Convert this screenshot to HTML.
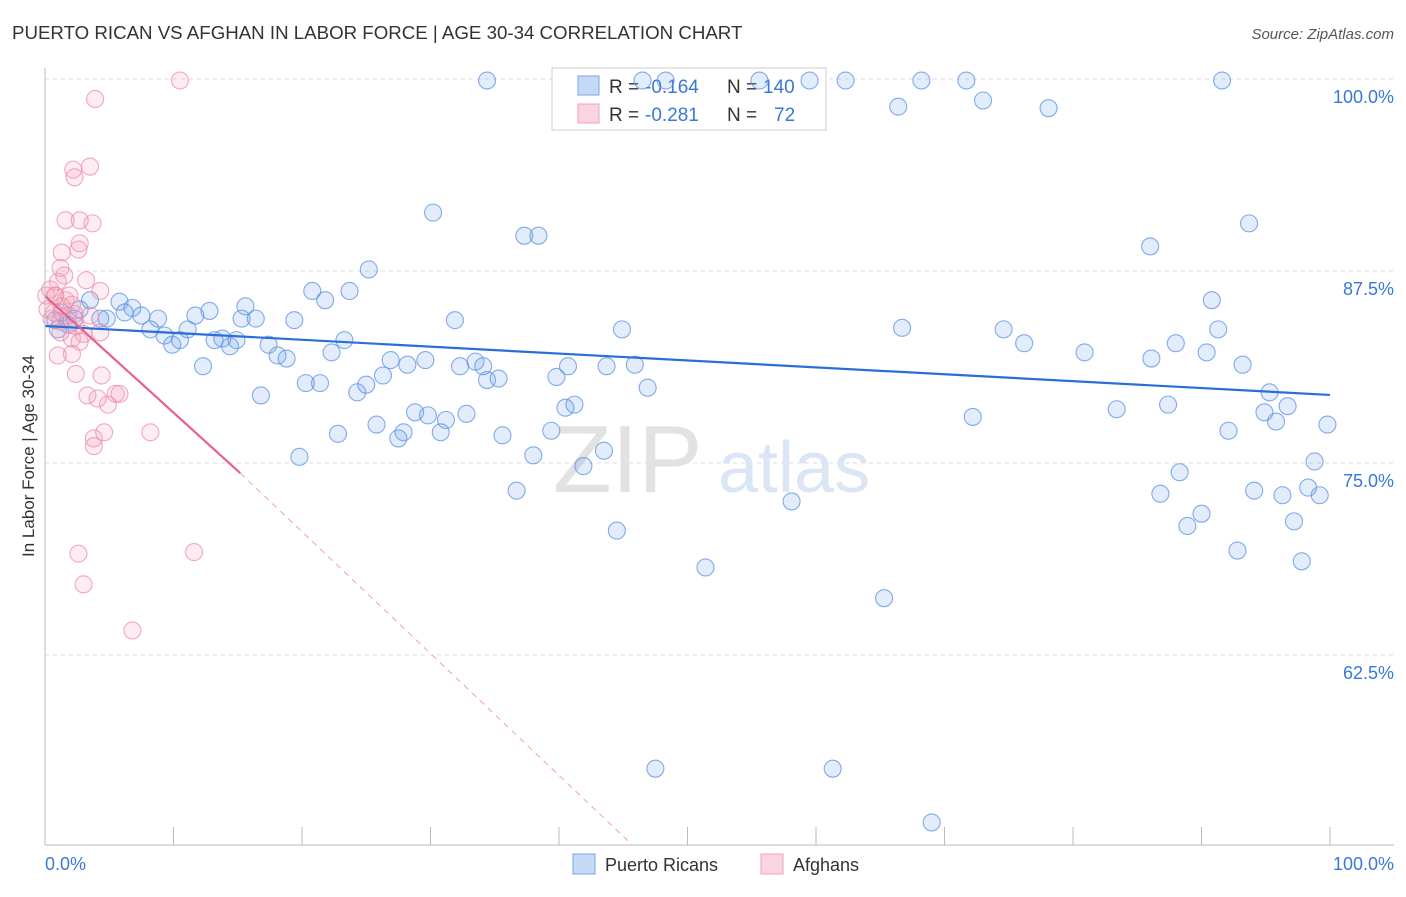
<!DOCTYPE html>
<html><head><meta charset="utf-8"><style>
body{margin:0;background:#fff;font-family:"Liberation Sans",sans-serif;}
svg text{font-family:"Liberation Sans",sans-serif;}
</style></head><body>
<svg id="chart" width="1406" height="892" viewBox="0 0 1406 892" xmlns="http://www.w3.org/2000/svg">
<text x="12" y="39" font-size="18.7" fill="#333">PUERTO RICAN VS AFGHAN IN LABOR FORCE | AGE 30-34 CORRELATION CHART</text>
<text x="1394" y="39" font-size="15" fill="#555" text-anchor="end" font-style="italic">Source: ZipAtlas.com</text>
<g id="grid"></g>
<text x="553" y="492" font-size="96" fill="#e2e2e2" font-family="Liberation Serif, serif">ZIP</text>
<text x="718" y="492" font-size="72" fill="#dbe6f5">atlas</text>
<g>
<rect x="552" y="68" width="274" height="62" fill="#fff" stroke="#ccc"/>
<rect x="578" y="76" width="21" height="19" fill="rgba(110,160,235,0.4)" stroke="#7aa6e6"/>
<rect x="578" y="104" width="21" height="19" fill="rgba(245,160,185,0.45)" stroke="#f0a0b8"/>
<text x="609" y="93" font-size="19" fill="#333">R =</text>
<text x="645" y="93" font-size="19" fill="#3a78d8">-0.164</text>
<text x="727" y="93" font-size="19" fill="#333">N =</text>
<text x="763" y="93" font-size="19" fill="#3a78d8">140</text>
<text x="609" y="121" font-size="19" fill="#333">R =</text>
<text x="645" y="121" font-size="19" fill="#3a78d8">-0.281</text>
<text x="727" y="121" font-size="19" fill="#333">N =</text>
<text x="774" y="121" font-size="19" fill="#3a78d8">72</text>
</g>
<g id="points"></g>
<g id="trends"></g>
<g id="axes"></g>
<text transform="translate(34,456) rotate(-90)" font-size="17" fill="#333" text-anchor="middle">In Labor Force | Age 30-34</text>
<g>
<rect x="573" y="854" width="22" height="20" fill="rgba(110,160,235,0.4)" stroke="#7aa6e6"/>
<text x="605" y="871" font-size="18" fill="#333">Puerto Ricans</text>
<rect x="761" y="854" width="22" height="20" fill="rgba(245,160,185,0.45)" stroke="#f0a0b8"/>
<text x="793" y="871" font-size="18" fill="#333">Afghans</text>
</g>
</svg>
<script>
const blueX=[34.4,46.5,48.3,55.6,59.5,62.3,68.2,71.7,91.6,66.4,73.0,78.1,30.2,37.3,38.4,86.0,93.7,25.2,20.8,23.7,21.8,90.8,15.6,12.8,3.5,5.8,6.8,4.8,6.2,7.5,8.8,8.2,9.3,9.9,10.5,11.1,11.7,13.2,13.8,14.4,14.9,15.3,16.4,17.4,18.1,18.8,19.4,12.3,16.8,20.3,21.4,22.3,23.3,24.3,25.0,26.3,26.9,28.2,29.6,31.9,32.3,33.5,34.1,34.4,35.3,28.8,29.8,31.2,32.8,30.8,27.9,27.5,25.8,22.8,19.8,35.6,36.7,38.0,39.4,40.5,41.2,39.8,40.7,43.7,44.9,45.9,46.9,43.5,41.9,44.5,51.4,58.1,65.3,66.7,72.2,74.6,76.2,80.9,83.4,86.1,87.4,88.0,90.4,91.3,93.2,95.3,94.9,95.8,96.7,92.1,88.3,86.8,90.0,88.9,94.1,96.3,98.3,99.2,98.8,99.8,97.2,92.8,97.8,47.5,61.3,69.0,0.8,1.3,1.8,2.3,2.7,1.0,4.3];
const blueY=[99.9,99.9,99.9,99.9,99.9,99.9,99.9,99.9,99.9,98.2,98.6,98.1,91.3,89.8,89.8,89.1,90.6,87.6,86.2,86.2,85.6,85.6,85.2,84.9,85.6,85.5,85.1,84.4,84.8,84.6,84.4,83.7,83.3,82.7,83.0,83.7,84.6,83.0,83.1,82.6,83.0,84.4,84.4,82.7,82.0,81.8,84.3,81.3,79.4,80.2,80.2,82.2,83.0,79.6,80.1,80.7,81.7,81.4,81.7,84.3,81.3,81.6,81.3,80.4,80.5,78.3,78.1,77.8,78.2,77.0,77.0,76.6,77.5,76.9,75.4,76.8,73.2,75.5,77.1,78.6,78.8,80.6,81.3,81.3,83.7,81.4,79.9,75.8,74.8,70.6,68.2,72.5,66.2,83.8,78.0,83.7,82.8,82.2,78.5,81.8,78.8,82.8,82.2,83.7,81.4,79.6,78.3,77.7,78.7,77.1,74.4,73.0,71.7,70.9,73.2,72.9,73.4,72.9,75.1,77.5,71.2,69.3,68.6,55.1,55.1,51.6,84.3,84.8,84.0,84.4,85.0,83.7,84.4];
const pinkX=[10.5,3.9,2.2,3.5,2.3,1.6,2.7,3.7,2.7,1.3,2.6,1.2,1.5,1.0,3.2,0.4,0.8,1.6,4.3,2.1,0.2,0.5,1.2,1.8,2.4,3.0,3.5,2.1,2.7,1.0,2.1,4.3,4.4,2.4,3.3,4.9,5.5,5.8,4.1,3.8,4.6,3.8,8.2,2.6,11.6,3.0,6.8,0.8,1.3,1.9,0.1,0.7,1.2,2.3];
const pinkY=[99.9,98.7,94.1,94.3,93.6,90.8,90.8,90.6,89.3,88.7,88.9,87.7,87.2,86.8,86.9,86.3,85.9,85.6,86.2,85.3,85.0,84.4,84.2,84.6,83.9,83.4,84.6,83.1,82.9,82.0,82.1,83.5,80.7,80.8,79.4,78.8,79.5,79.5,79.2,76.6,77.0,76.1,77.0,69.1,69.2,67.1,64.1,85.9,85.2,85.9,85.9,84.8,83.5,84.7];
const blueTrend=[83.92,79.43];
const pinkTrend=[85.87,-0.759];
const yTicks=[100,87.5,75,62.5];
const yTickLabels=["100.0%","87.5%","75.0%","62.5%"];
const xTicks=[0,10,20,30,40,50,60,70,80,90,100];

const NS="http://www.w3.org/2000/svg";
const X=v=>45+v*12.85;
const Y=v=>79+(100-v)*15.36;
function mk(tag,attrs,parent){const e=document.createElementNS(NS,tag);for(const k in attrs)e.setAttribute(k,attrs[k]);parent.appendChild(e);return e;}
const grid=document.getElementById('grid'),axes=document.getElementById('axes'),pts=document.getElementById('points'),tr=document.getElementById('trends');
yTicks.forEach((t,i)=>{
  const l=mk('line',{x1:45,x2:1394,y1:Y(t),y2:Y(t),stroke:'#ddd','stroke-dasharray':'4,4'},grid);
  
  
  const tx=mk('text',{x:1394,y:Y(t)+24,'font-size':18,fill:'#3a78d8','text-anchor':'end'},axes);
  tx.textContent=yTickLabels[i];
  
  
});
const ax=mk('line',{x1:45,x2:1394,y1:845,y2:845,stroke:'#bbb'},axes);


const ay=mk('line',{x1:45,x2:45,y1:68,y2:845,stroke:'#bbb'},axes);


xTicks.forEach(t=>{
  const l=mk('line',{x1:X(t),x2:X(t),y1:827,y2:845,stroke:'#bbb'},axes);
  
  
});
const xl0=mk('text',{x:45,y:870,'font-size':18,fill:'#3a78d8'},axes);xl0.textContent='0.0%';


const xl1=mk('text',{x:1394,y:870,'font-size':18,fill:'#3a78d8','text-anchor':'end'},axes);xl1.textContent='100.0%';


blueX.forEach((v,i)=>{
  const c=mk('circle',{cx:X(v),cy:Y(blueY[i]),r:8.5,fill:'rgba(110,160,235,0.2)',stroke:'rgba(90,145,225,0.75)','stroke-width':1.1},pts);
  
  
});
pinkX.forEach((v,i)=>{
  const c=mk('circle',{cx:X(v),cy:Y(pinkY[i]),r:8.5,fill:'rgba(245,160,185,0.2)',stroke:'rgba(238,140,170,0.75)','stroke-width':1.1},pts);
  
  
});
const bl=mk('line',{x1:X(0),y1:Y(blueTrend[0]),x2:X(100),y2:Y(blueTrend[1]),stroke:'#2a6fd6','stroke-width':2.2},tr);


const pv=x=>pinkTrend[0]+pinkTrend[1]*x;
const xEnd=(pinkTrend[0]-50.1)/(-pinkTrend[1])*0.97;
const pl=mk('line',{x1:X(0),y1:Y(pv(0)),x2:X(15.2),y2:Y(pv(15.2)),stroke:'#e8608c','stroke-width':2.2},tr);


const pd=mk('line',{x1:X(15.2),y1:Y(pv(15.2)),x2:X(xEnd),y2:845,stroke:'#f0a0b8','stroke-width':1,'stroke-dasharray':'6,5'},tr);


</script>
</body></html>
